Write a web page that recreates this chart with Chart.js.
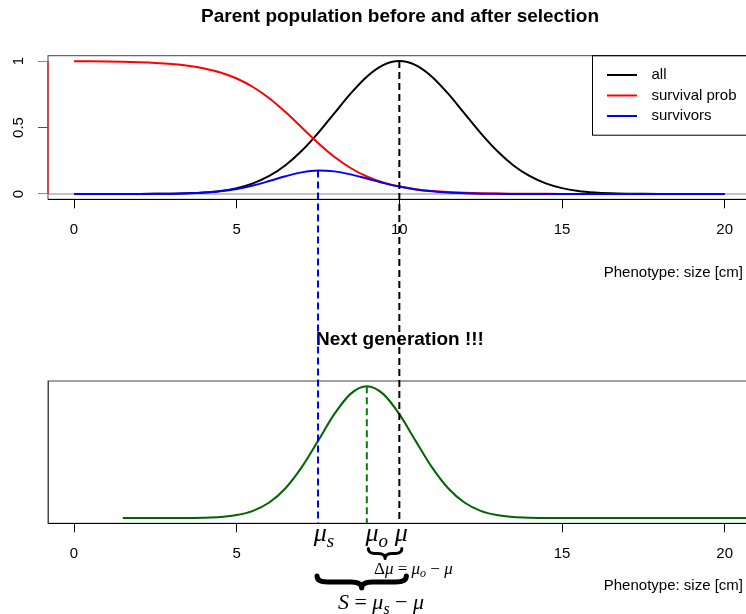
<!DOCTYPE html>
<html>
<head>
<meta charset="utf-8">
<title>Parent population before and after selection</title>
<script src="https://cdn.jsdelivr.net/npm/chart.js@4.4.0/dist/chart.umd.min.js"></script>
<style>
  html, body { margin: 0; padding: 0; background: #fff; overflow: hidden; width: 746px; height: 614px; }
  #wrap { position: relative; width: 746px; height: 614px; overflow: hidden; }
  canvas { position: absolute; left: 0; }
  #parents { top: 0; }
  #offspringChart { top: 300px; }
</style>
</head>
<body>
<div id="wrap">
  <canvas id="parents" width="760" height="300"></canvas>
  <canvas id="offspringChart" width="760" height="314"></canvas>
</div>
<script>
// ---- data ---------------------------------------------------------------
// phenotype grid (size in cm) for the parent generation
const phenotype = [0, 0.5, 1, 1.5, 2, 2.5, 3, 3.5, 4, 4.5, 5, 5.5, 6, 6.5, 7, 7.5, 8, 8.5, 9, 9.5, 10,
  10.5, 11, 11.5, 12, 12.5, 13, 13.5, 14, 14.5, 15, 15.5, 16, 16.5, 17, 17.5, 18, 18.5, 19, 19.5, 20];

// relative frequency of all parents
const allParents = [0, 0, 0, 0.0001, 0.0003, 0.0009, 0.0022, 0.0051, 0.0111, 0.0228, 0.0439, 0.0796,
  0.1353, 0.2163, 0.3247, 0.4578, 0.6065, 0.7548, 0.8825, 0.9692, 1,
  0.9692, 0.8825, 0.7548, 0.6065, 0.4578, 0.3247, 0.2163, 0.1353, 0.0796, 0.0439, 0.0228, 0.0111,
  0.0051, 0.0022, 0.0009, 0.0003, 0.0001, 0, 0, 0];

// probability of surviving selection
const survivalProb = [0.9986, 0.9978, 0.9965, 0.9945, 0.9912, 0.9859, 0.9775, 0.9644, 0.9443, 0.9138,
  0.8688, 0.8045, 0.7199, 0.6158, 0.5, 0.3842, 0.2803, 0.1954, 0.1316, 0.0864, 0.0557,
  0.0356, 0.0225, 0.0141, 0.0089, 0.0056, 0.0035, 0.0022, 0.0014, 0.0009, 0.0005, 0.0003, 0.0002,
  0.0001, 0.0001, 0, 0, 0, 0, 0, 0];

// parents that survive
const survivors = [0, 0, 0, 0.0001, 0.0003, 0.0009, 0.0021, 0.0049, 0.0105, 0.0208, 0.0381, 0.0640,
  0.0974, 0.1332, 0.1624, 0.1759, 0.1700, 0.1475, 0.1161, 0.0837, 0.0557,
  0.0345, 0.0199, 0.0106, 0.0054, 0.0026, 0.0011, 0.0005, 0.0002, 0.0001, 0, 0, 0,
  0, 0, 0, 0, 0, 0, 0, 0];

// phenotype grid and relative frequency for the next generation
const offspringSize = [1.5, 2, 2.5, 3, 3.5, 4, 4.5, 5, 5.5, 6, 6.5, 7, 7.5, 8, 8.5, 9, 9.5, 10, 10.5,
  11, 11.5, 12, 12.5, 13, 13.5, 14, 14.5, 15, 15.5, 16, 16.5, 17, 17.5, 18, 18.5, 19, 19.5, 20, 20.5, 21];
const offspring = [0, 0, 0, 0.0002, 0.0008, 0.0026, 0.0081, 0.0223, 0.0543, 0.1176, 0.2263, 0.3863,
  0.5856, 0.7884, 0.9423, 1, 0.9423, 0.7884, 0.5856, 0.3863, 0.2263, 0.1176, 0.0543, 0.0223, 0.0081,
  0.0026, 0.0008, 0.0002, 0, 0, 0, 0, 0, 0, 0, 0, 0, 0, 0, 0];

const seriesNames = ['all', 'survival prob', 'survivors'];
const xTicksTop = [0, 5, 10, 15, 20];
const xTicksBottom = [0, 5, 15, 20];
const yTicks = [0, 0.5, 1];

// means: survivors, offspring, all parents
const meanValues = [7.5, 9, 10];
const survivorPeak = survivors[phenotype.indexOf(meanValues[0])];
const parentPeak = allParents[phenotype.indexOf(meanValues[2])];
const offspringPeak = offspring[offspringSize.indexOf(meanValues[1])];

const titleTop = 'Parent population before and after selection';
const titleBottom = 'Next generation !!!';
const xTitle = 'Phenotype: size [cm]';

// ---- helpers -------------------------------------------------------------
const SANS = '"Liberation Sans", Arial, Helvetica, sans-serif';
const SERIF = '"Liberation Serif", "Times New Roman", serif';
Chart.defaults.font.family = SANS;
Chart.defaults.color = '#000';

const pts = (xs, ys) => xs.map((x, i) => ({ x, y: ys[i] }));

function vDash(ctx, x, y1, y2, color) {
  ctx.save();
  ctx.strokeStyle = color;
  ctx.lineWidth = 2;
  ctx.setLineDash([7, 4]);
  ctx.beginPath();
  ctx.moveTo(x, y1);
  ctx.lineTo(x, y2);
  ctx.stroke();
  ctx.restore();
}

function text(ctx, str, x, y, font, align) {
  ctx.save();
  ctx.font = font;
  ctx.fillStyle = '#000';
  ctx.textAlign = align || 'center';
  ctx.textBaseline = 'middle';
  ctx.fillText(str, x, y);
  ctx.restore();
}

// math run: parts = [[string, style]], style 'i' italic, 'r' upright, 's' italic subscript
function mathRun(ctx, parts, x, baseline, size, align) {
  ctx.save();
  ctx.fillStyle = '#000';
  ctx.textBaseline = 'alphabetic';
  ctx.textAlign = 'left';
  const fontOf = st => st === 'r' ? `${size}px ${SERIF}` :
    st === 's' ? `italic ${Math.round(size * 0.72)}px ${SERIF}` : `italic ${size}px ${SERIF}`;
  const widths = parts.map(([t, st]) => { ctx.font = fontOf(st); return ctx.measureText(t).width; });
  const total = widths.reduce((a, b) => a + b, 0);
  let cx = align === 'left' ? x : x - total / 2;
  parts.forEach(([t, st], i) => {
    ctx.font = fontOf(st);
    ctx.fillText(t, cx, st === 's' ? baseline + size * 0.22 : baseline);
    cx += widths[i];
  });
  ctx.restore();
}

// horizontal curly brace opening upwards, point downwards
function brace(ctx, x1, x2, y, h, lw) {
  const xm = (x1 + x2) / 2, yb = y + h * 0.5;
  const r = Math.min(h * 0.9, (x2 - x1) / 5);
  ctx.save();
  ctx.strokeStyle = '#000';
  ctx.lineWidth = lw;
  ctx.lineCap = 'round';
  ctx.lineJoin = 'round';
  ctx.beginPath();
  ctx.moveTo(x1, y);
  ctx.quadraticCurveTo(x1, yb, x1 + r, yb);
  ctx.lineTo(xm - r, yb);
  ctx.quadraticCurveTo(xm, yb, xm, y + h);
  ctx.quadraticCurveTo(xm, yb, xm + r, yb);
  ctx.lineTo(x2 - r, yb);
  ctx.quadraticCurveTo(x2, yb, x2, y);
  ctx.stroke();
  ctx.restore();
}

const boxPlugin = {
  id: 'frame',
  beforeDraw(chart) {
    const a = chart.chartArea, ctx = chart.ctx;
    ctx.save();
    ctx.strokeStyle = '#444';
    ctx.lineWidth = 1;
    ctx.strokeRect(a.left, a.top, a.right - a.left, a.bottom - a.top);
    ctx.restore();
  }
};

const xScale = (height, ticks) => ({
  type: 'linear', min: -0.8, max: 20.8,
  afterBuildTicks: s => { s.ticks = ticks.map(v => ({ value: v })); },
  afterFit: s => { s.height = height; },
  grid: { drawOnChartArea: false, drawTicks: true, tickLength: 9, tickColor: '#000', tickWidth: 1 },
  border: { color: '#000', width: 1 },
  ticks: { autoSkip: false, maxRotation: 0, padding: 13, color: '#000', font: { size: 15 } }
});

// ---- parent generation ------------------------------------------------------
const topDecor = {
  id: 'topDecor',
  beforeDatasetsDraw(chart) {
    const ctx = chart.ctx, a = chart.chartArea, ys = chart.scales.y;
    const y0 = ys.getPixelForValue(0);
    ctx.save();
    ctx.strokeStyle = '#8a8a8a';
    ctx.lineWidth = 1.2;
    ctx.beginPath();
    ctx.moveTo(a.left, y0);
    ctx.lineTo(a.right, y0);
    ctx.stroke();
    // red axis line spanning the tick range
    ctx.strokeStyle = 'rgb(215,45,45)';
    ctx.lineWidth = 1.5;
    ctx.beginPath();
    ctx.moveTo(a.left, ys.getPixelForValue(yTicks[0]));
    ctx.lineTo(a.left, ys.getPixelForValue(yTicks[yTicks.length - 1]));
    ctx.stroke();
    ctx.restore();
  },
  afterDraw(chart) {
    const ctx = chart.ctx, a = chart.chartArea, xs = chart.scales.x, ys = chart.scales.y;
    text(ctx, titleTop, 400, 17, `bold 19px ${SANS}`);
    text(ctx, xTitle, 743, 273, `15px ${SANS}`, 'right');

    // legend
    ctx.save();
    ctx.strokeStyle = '#000';
    ctx.lineWidth = 1;
    ctx.strokeRect(592.5, a.top, 200, 79.5);
    chart.data.datasets.forEach((d, i) => {
      const y = 75 + i * 20.5;
      ctx.strokeStyle = d.borderColor;
      ctx.lineWidth = 2;
      ctx.beginPath();
      ctx.moveTo(607, y);
      ctx.lineTo(637, y);
      ctx.stroke();
      text(ctx, d.label, 651.5, y, `15px ${SANS}`, 'left');
    });
    ctx.restore();

    // mean lines (continue into the next panel)
    vDash(ctx, xs.getPixelForValue(meanValues[2]), ys.getPixelForValue(parentPeak), chart.height + 5, '#000');
    vDash(ctx, xs.getPixelForValue(meanValues[0]), ys.getPixelForValue(survivorPeak), chart.height + 5, '#0000ff');
  }
};

const topChart = new Chart(document.getElementById('parents'), {
  type: 'line',
  data: {
    datasets: [
      { label: seriesNames[0], data: pts(phenotype, allParents), borderColor: '#000000', order: 2 },
      { label: seriesNames[1], data: pts(phenotype, survivalProb), borderColor: '#ff0000', order: 1 },
      { label: seriesNames[2], data: pts(phenotype, survivors), borderColor: '#0000ff', order: 0 }
    ].map(d => Object.assign(d, { borderWidth: 2, pointRadius: 0, fill: false, cubicInterpolationMode: 'monotone' }))
  },
  options: {
    responsive: false, animation: false, devicePixelRatio: 1, events: [],
    layout: { padding: { top: 55.7, left: 0, right: 9.3, bottom: 0 } },
    plugins: { legend: { display: false }, tooltip: { enabled: false }, title: { display: false } },
    scales: {
      x: xScale(100.7, xTicksTop),
      y: {
        type: 'linear', min: -0.04, max: 1.04,
        afterBuildTicks: s => { s.ticks = yTicks.map(v => ({ value: v })); },
        afterFit: s => { s.width = 48; },
        grid: { drawOnChartArea: false, drawTicks: true, tickLength: 10, tickWidth: 1,
          tickColor: c => (c.tick && c.tick.value === 0.5) ? '#e01010' : '#f06060' },
        border: { display: false },
        ticks: { autoSkip: false, minRotation: 90, maxRotation: 90, crossAlign: 'center', padding: 9,
          color: '#000', font: { size: 15 }, callback: v => String(v) }
      }
    }
  },
  plugins: [boxPlugin, topDecor]
});

// ---- next generation --------------------------------------------------------
const OFFSET = 300; // page position of the lower canvas
const bottomDecor = {
  id: 'bottomDecor',
  afterDraw(chart) {
    const ctx = chart.ctx, a = chart.chartArea, xs = chart.scales.x, ys = chart.scales.y;
    const ty = topChart.scales.y;
    text(ctx, titleBottom, 400, 40, `bold 19px ${SANS}`);
    text(ctx, xTitle, 743, 285.7, `15px ${SANS}`, 'right');

    const pS = xs.getPixelForValue(meanValues[0]);
    const pO = xs.getPixelForValue(meanValues[1]);
    const pM = xs.getPixelForValue(meanValues[2]);

    vDash(ctx, pM, ty.getPixelForValue(parentPeak) - OFFSET, a.bottom, '#000');
    vDash(ctx, pS, ty.getPixelForValue(survivorPeak) - OFFSET, a.bottom, '#0000ff');
    vDash(ctx, pO, ys.getPixelForValue(offspringPeak), a.bottom, '#008000');

    // mean labels under the axis
    mathRun(ctx, [['μ', 'i'], ['s', 's']], pS + 6, 241, 26);
    mathRun(ctx, [['μ', 'i'], ['o', 's']], pO + 10, 241, 26);
    mathRun(ctx, [['μ', 'i']], pM + 2, 241, 26);

    // response to selection
    brace(ctx, pO + 1.5, pM + 2.5, 248.5, 10, 3);
    mathRun(ctx, [['Δ', 'r'], ['μ', 'i'], [' = ', 'r'], ['μ', 'i'], ['o', 's'], [' − ', 'r'], ['μ', 'i']],
      374, 273.5, 17, 'left');

    // selection differential
    brace(ctx, pS - 1, pM + 7, 276, 12, 5);
    mathRun(ctx, [['S', 'i'], [' = ', 'r'], ['μ', 'i'], ['s', 's'], [' − ', 'r'], ['μ', 'i']],
      381, 309, 22);
  }
};

const bottomChart = new Chart(document.getElementById('offspringChart'), {
  type: 'line',
  data: {
    datasets: [{
      label: 'next generation', data: pts(offspringSize, offspring), borderColor: '#006400',
      borderWidth: 2, pointRadius: 0, fill: false, cubicInterpolationMode: 'monotone'
    }]
  },
  options: {
    responsive: false, animation: false, devicePixelRatio: 1, events: [],
    layout: { padding: { top: 81, left: 0, right: 9.3, bottom: 0 } },
    plugins: { legend: { display: false }, tooltip: { enabled: false }, title: { display: false } },
    scales: {
      x: xScale(90.7, xTicksBottom),
      y: {
        type: 'linear', min: -0.04, max: 1.04,
        afterFit: s => { s.width = 48; },
        grid: { display: false, drawTicks: false },
        border: { color: '#444', width: 1 },
        ticks: { display: false }
      }
    }
  },
  plugins: [boxPlugin, bottomDecor]
});
</script>
</body>
</html>
